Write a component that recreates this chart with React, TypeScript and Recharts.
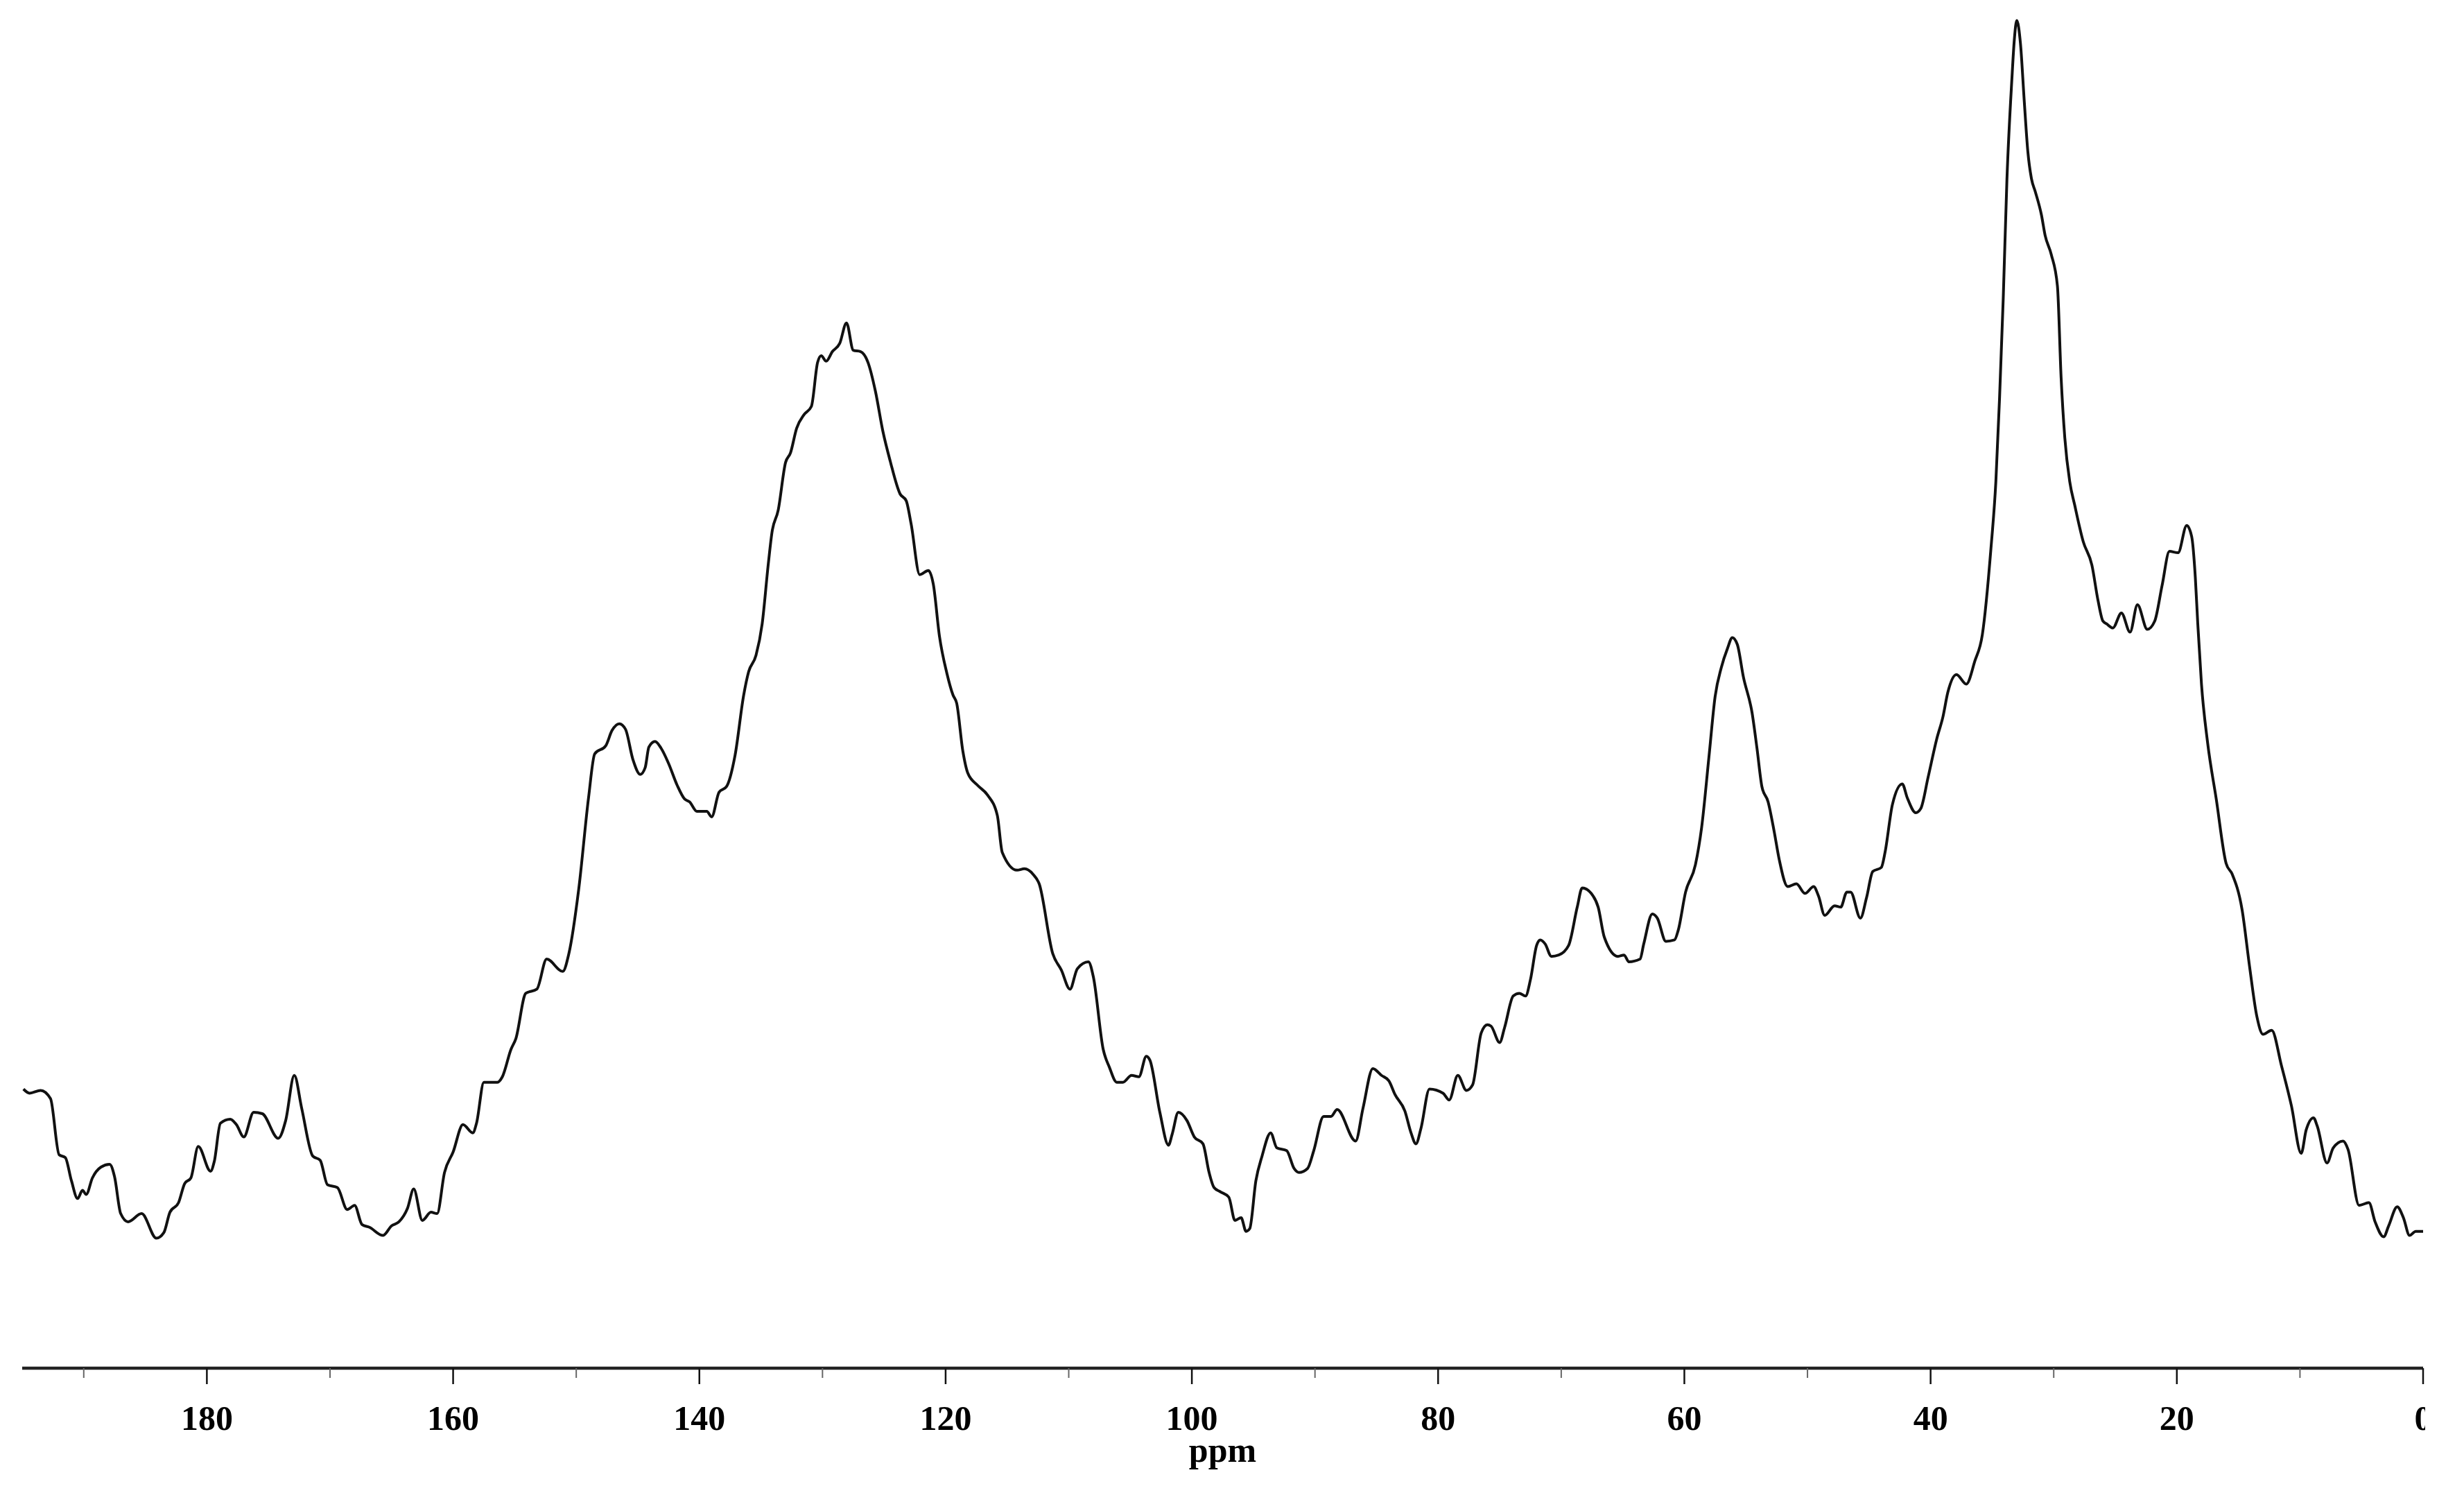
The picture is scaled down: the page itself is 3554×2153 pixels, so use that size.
import { LineChart, Line, XAxis, YAxis } from 'recharts'

// chemical shift (ppm), read left to right off the spectrum
const ppm = [
  194.9, 194.4, 193.5, 192.7, 192.0, 191.5, 191.0, 190.5, 190.1, 189.8,
  189.3, 188.6, 187.9, 187.5, 187.0, 186.4, 185.3, 184.1, 183.5, 183.0,
  182.3, 181.8, 181.3, 180.7, 179.7, 179.4, 178.9, 178.1, 177.6, 177.0,
  176.2, 175.5, 174.2, 173.6, 172.9, 172.3, 171.4, 170.8, 170.2, 169.4,
  168.6, 168.0, 167.4, 166.8, 165.7, 165.0, 164.4, 163.7, 163.2, 162.5,
  161.8, 161.3, 160.7, 160.0, 159.2, 158.4, 158.1, 157.5, 156.4, 156.0,
  155.3, 154.9, 154.1, 153.2, 152.4, 151.1, 150.6, 149.8, 149.0, 148.5,
  147.6, 147.1, 146.5, 146.0, 145.4, 144.8, 144.4, 144.1, 143.6, 143.1,
  142.5, 141.8, 141.2, 140.8, 140.2, 139.4, 139.0, 138.4, 137.8, 137.1,
  136.4, 136.0, 135.4, 134.9, 134.4, 134.1, 133.6, 133.0, 132.6, 132.1,
  131.5, 130.9, 130.4, 130.1, 129.7, 129.2, 128.6, 128.05, 127.5, 126.9,
  126.3, 125.7, 125.1, 124.5, 123.7, 123.2, 122.8, 122.1, 121.4, 121.0,
  120.5, 119.9, 119.4, 119.1, 118.6, 118.2, 117.4, 116.6, 115.8, 115.4,
  114.2, 113.6, 112.9, 112.4, 111.3, 110.6, 109.9, 109.3, 108.4, 108.0,
  107.2, 106.7, 106.1, 105.6, 104.9, 104.3, 103.7, 103.4, 102.6, 101.9,
  101.6, 101.1, 100.4, 99.8, 99.1, 98.6, 98.2, 97.7, 97.0, 96.5,
  96.0, 95.6, 95.3, 94.8, 94.3, 93.6, 93.1, 92.3, 91.7, 91.3,
  90.6, 90.1, 89.3, 88.7, 88.2, 86.7, 86.1, 85.3, 84.6, 84.0,
  83.5, 82.7, 82.2, 81.8, 81.4, 80.7, 79.6, 79.1, 78.4, 77.7,
  77.2, 76.5, 76.0, 75.7, 75.0, 74.6, 73.9, 73.4, 72.9, 72.5,
  72.0, 71.7, 71.3, 70.8, 70.2, 69.4, 68.7, 68.3, 67.4, 67.0,
  66.5, 65.4, 64.9, 64.5, 63.6, 63.3, 62.6, 62.2, 61.5, 60.8,
  60.5, 59.9, 59.1, 58.6, 58.0, 57.5, 57.0, 56.5, 56.1, 55.7,
  55.2, 54.5, 54.1, 53.7, 53.2, 52.7, 52.3, 51.6, 50.9, 50.2,
  49.5, 49.1, 48.6, 47.8, 47.3, 46.8, 46.5, 45.7, 45.2, 44.7,
  44.0, 43.7, 43.1, 42.3, 41.9, 41.2, 40.8, 40.2, 39.5, 39.0,
  38.6, 37.9, 37.1, 36.4, 35.8, 35.1, 34.7, 34.4, 34.1, 33.8,
  33.4, 33.2, 33.0, 32.7, 32.4, 32.1, 31.8, 31.5, 31.0, 30.7,
  30.2, 29.7, 29.4, 29.1, 28.7, 28.3, 27.6, 26.9, 26.4, 26.0,
  25.7, 25.2, 24.5, 23.8, 23.2, 22.4, 21.8, 21.2, 20.6, 19.9,
  19.2, 18.8, 18.5, 18.3, 18.0, 17.5, 16.8, 16.0, 15.5, 14.7,
  14.1, 13.5, 13.0, 12.3, 11.5, 10.7, 9.9, 9.5, 8.9, 8.6,
  7.8, 7.3, 6.5, 6.1, 5.2, 4.4, 3.9, 3.2, 2.8, 2.1,
  1.6, 1.1, 0.6, 0.0,
]

// signal intensity (arbitrary units, 0-100), same order as ppm
const intensity = [
  20.4, 20.1, 20.3, 19.7, 15.6, 15.4, 13.7, 12.4, 13.0, 12.7,
  13.9, 14.7, 14.9, 14.0, 11.3, 10.7, 11.3, 9.5, 9.9, 11.4,
  12.1, 13.5, 13.9, 16.2, 14.4, 15.1, 17.9, 18.2, 17.8, 16.9,
  18.7, 18.6, 16.8, 18.1, 21.4, 19.0, 15.5, 15.2, 13.4, 13.2,
  11.6, 11.9, 10.5, 10.3, 9.7, 10.4, 10.7, 11.7, 13.1, 10.8,
  11.4, 11.3, 14.3, 15.8, 17.8, 17.2, 17.9, 20.9, 20.9, 21.3,
  23.3, 24.1, 27.4, 27.7, 29.9, 29.0, 30.3, 35.0, 41.7, 44.9,
  45.5, 46.6, 47.1, 46.7, 44.5, 43.4, 43.9, 45.4, 45.8, 45.3,
  44.2, 42.6, 41.6, 41.4, 40.7, 40.7, 40.3, 42.1, 42.5, 44.8,
  49.2, 50.9, 52.1, 54.4, 58.8, 61.1, 62.7, 66.2, 66.9, 68.7,
  69.7, 70.3, 73.5, 74.0, 73.6, 74.3, 74.9, 76.4, 74.4, 74.3,
  73.5, 71.4, 68.5, 66.3, 63.9, 63.4, 61.7, 58.0, 58.3, 57.3,
  53.5, 50.8, 49.2, 48.6, 45.1, 43.5, 42.6, 41.9, 40.4, 37.7,
  36.4, 36.5, 36.1, 35.4, 30.3, 29.1, 27.7, 29.2, 29.7, 28.6,
  23.3, 22.0, 20.9, 20.9, 21.4, 21.3, 22.8, 22.5, 18.7, 16.3,
  17.1, 18.7, 18.1, 16.9, 16.4, 14.3, 13.2, 12.9, 12.5, 10.8,
  11.0, 10.0, 10.2, 13.7, 15.5, 17.2, 16.1, 15.9, 14.6, 14.3,
  14.6, 15.9, 18.4, 18.4, 18.9, 16.6, 19.0, 21.9, 21.4, 21.0,
  20.0, 18.8, 17.2, 16.4, 17.5, 20.4, 20.1, 19.6, 21.4, 20.3,
  20.7, 24.5, 25.1, 25.0, 23.8, 24.9, 27.2, 27.4, 27.2, 28.4,
  30.9, 31.3, 31.0, 30.1, 30.2, 30.9, 33.7, 35.1, 34.5, 33.7,
  31.5, 30.1, 30.2, 29.7, 29.9, 31.0, 33.2, 32.9, 31.2, 31.3,
  32.0, 34.8, 36.8, 39.5, 44.7, 49.1, 51.2, 52.6, 53.4, 52.9,
  50.5, 47.9, 45.3, 42.5, 41.4, 39.2, 37.2, 35.2, 35.4, 34.7,
  35.2, 34.5, 33.1, 33.8, 33.7, 34.8, 34.8, 32.9, 34.4, 36.3,
  36.6, 37.7, 41.2, 42.7, 41.7, 40.6, 40.9, 43.2, 46.0, 47.6,
  49.4, 50.7, 50.0, 51.7, 53.6, 59.9, 64.8, 70.9, 78.2, 86.9,
  94.2, 97.1, 98.5, 96.8, 92.7, 88.9, 86.9, 86.0, 84.3, 82.8,
  81.4, 79.1, 72.4, 68.0, 64.8, 63.1, 60.4, 58.7, 56.1, 54.6,
  54.4, 54.1, 55.2, 53.8, 55.8, 54.0, 54.6, 57.2, 59.7, 59.6,
  61.6, 60.8, 57.8, 54.4, 50.0, 45.7, 41.6, 36.9, 36.1, 33.5,
  29.4, 25.7, 24.4, 24.7, 22.1, 19.2, 15.7, 17.4, 18.3, 17.7,
  15.0, 16.1, 16.6, 16.0, 11.9, 12.1, 10.7, 9.6, 10.4, 11.8,
  11.0, 9.7, 10.0, 10.0,
]

const ppmTicks = [0, 10, 20, 30, 40, 50, 60, 70, 80, 90, 100, 110, 120, 130, 140, 150, 160, 170, 180, 190]

const data = ppm.map((p, i) => ({ ppm: p, value: intensity[i] }))

const FONT = '"Liberation Serif", "Times New Roman", serif'

const PpmTick = (props: any) => {
  const { x, y, payload } = props
  const major = payload.value % 20 === 0
  return (
    <g>
      <line
        x1={x}
        x2={x}
        y1={y}
        y2={y + (major ? 23 : 14)}
        stroke={major ? '#111' : '#666'}
        strokeWidth={major ? 2.5 : 2}
      />
      {major && (
        <text
          x={x}
          y={y + 89}
          textAnchor="middle"
          fill="#000"
          fontSize={50}
          fontWeight="bold"
          fontFamily={FONT}
          clipPath={payload.value === 0 ? 'url(#cutRight)' : undefined}
        >
          {payload.value}
        </text>
      )}
    </g>
  )
}

export default function App() {
  return (
    <div style={{ width: 3554, height: 2153, background: '#fff' }}>
      <style>{'body{margin:0}'}</style>
      <LineChart
        width={3554}
        height={2153}
        data={data}
        margin={{ top: 0, right: 59, bottom: 0, left: 32 }}
      >
        <defs>
          <clipPath id="cutRight">
            <rect x={0} y={0} width={3498} height={2153} />
          </clipPath>
        </defs>
        <XAxis
          dataKey="ppm"
          type="number"
          domain={[0, 195]}
          reversed
          ticks={ppmTicks}
          interval={0}
          height={180}
          tickSize={0}
          tickMargin={0}
          tickLine={false}
          tick={<PpmTick />}
          axisLine={{ stroke: '#222', strokeWidth: 4.5 }}
          label={{
            value: 'ppm',
            position: 'insideBottom',
            offset: 45,
            fill: '#000',
            fontSize: 50,
            fontWeight: 'bold',
            fontFamily: FONT,
          }}
        />
        <YAxis type="number" domain={[0, 100]} hide />
        <Line
          type="monotone"
          dataKey="value"
          stroke="#111"
          strokeWidth={4}
          dot={false}
          isAnimationActive={false}
        />
      </LineChart>
    </div>
  )
}
